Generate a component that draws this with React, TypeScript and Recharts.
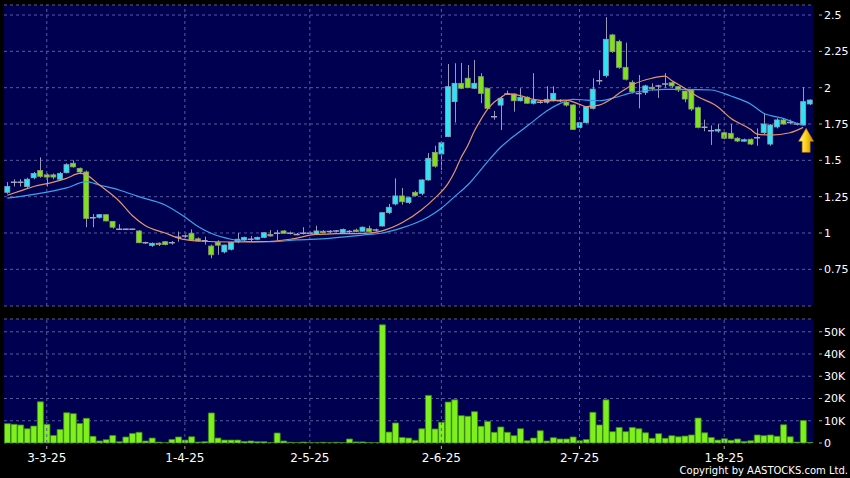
import {
  ComposedChart,
  Bar,
  Line,
  XAxis,
  YAxis,
  CartesianGrid,
  ReferenceLine,
  ReferenceDot,
} from "recharts";

// daily candles, index 0 = 21-2-25
const OPEN = [
  1.28, 1.35, 1.35, 1.32, 1.38, 1.43, 1.4, 1.4, 1.37, 1.415,
  1.48, 1.445, 1.42, 1.105, 1.108, 1.126, 1.08, 1.025, 1.025, 1.025,
  1.014, 0.933, 0.915, 0.93, 0.94, 0.933, 0.97, 0.98, 0.998, 0.96,
  0.947, 0.91, 0.936, 0.87, 0.888, 0.94, 0.952, 0.957, 0.957, 0.97,
  0.99, 0.998, 1.014, 0.998, 0.99, 0.998, 0.998, 0.99, 1.012, 1.01,
  1.014, 1.002, 1.01, 1.02, 1.012, 1.03, 1.02, 1.048, 1.14, 1.2,
  1.255, 1.21, 1.28, 1.273, 1.365, 1.555, 1.544, 1.663, 1.904, 2.03,
  2.065, 1.996, 2.076, 1.996, 1.8, 1.88, 1.957, 1.957, 1.91, 1.934,
  1.893, 1.9, 1.9, 1.91, 1.91, 1.9, 1.881, 1.727, 1.759, 1.858,
  2.048, 2.083, 2.363, 2.317, 2.14, 2.037, 1.96, 1.968, 2.003, 2.012,
  2.025, 2.034, 2.007, 1.977, 1.984, 1.862, 1.727, 1.704, 1.71, 1.69,
  1.686, 1.652, 1.638, 1.645, 1.656, 1.69, 1.612, 1.73, 1.778, 1.76,
  1.75, 1.743, 1.888,
];
const HIGH = [
  1.35, 1.37, 1.37, 1.38, 1.42, 1.52, 1.41, 1.41, 1.42, 1.48,
  1.5, 1.45, 1.43, 1.13, 1.13, 1.13, 1.08, 1.06, 1.03, 1.03,
  1.02, 0.94, 0.935, 0.935, 0.945, 0.945, 1.01, 0.99, 1.025, 0.97,
  0.975, 0.92, 0.95, 0.92, 0.94, 1.0, 0.975, 0.98, 0.975, 1.005,
  1.02, 1.02, 1.02, 1.01, 1.0, 1.04, 1.01, 1.05, 1.02, 1.02,
  1.02, 1.03, 1.02, 1.03, 1.045, 1.05, 1.03, 1.14, 1.2, 1.376,
  1.31, 1.25, 1.29, 1.37, 1.55, 1.6, 1.63, 2.163, 2.168, 2.17,
  2.156, 2.19, 2.1, 2.0, 1.84, 1.94, 1.98, 1.96, 1.996, 1.94,
  2.1, 1.91, 2.01, 2.01, 1.92, 1.91, 1.885, 1.76, 1.87, 2.065,
  2.12, 2.485, 2.37, 2.33, 2.31, 2.05, 2.087, 2.02, 2.03, 2.02,
  2.1, 2.04, 2.01, 1.98, 1.99, 1.87, 1.78, 1.74, 1.75, 1.695,
  1.75, 1.66, 1.65, 1.65, 1.72, 1.82, 1.75, 1.79, 1.79, 1.78,
  1.76, 2.003, 1.92,
];
const LOW = [
  1.27, 1.32, 1.32, 1.31, 1.37, 1.38, 1.32, 1.37, 1.36, 1.41,
  1.45, 1.41, 1.04, 1.04, 1.1, 1.08, 1.03, 1.02, 1.02, 1.02,
  0.93, 0.925, 0.905, 0.91, 0.915, 0.92, 0.94, 0.965, 0.95, 0.94,
  0.92, 0.826, 0.85, 0.86, 0.88, 0.93, 0.945, 0.94, 0.95, 0.965,
  0.975, 0.95, 0.995, 0.99, 0.985, 0.99, 0.99, 0.985, 1.0, 1.0,
  1.005, 1.0, 1.0, 1.005, 1.01, 1.005, 1.01, 1.045, 1.13, 1.19,
  1.195, 1.2, 1.25, 1.26, 1.36, 1.45, 1.434, 1.66, 1.76, 1.99,
  2.0, 1.99, 1.893, 1.85, 1.78, 1.709, 1.95, 1.835, 1.905, 1.89,
  1.885, 1.89, 1.89, 1.905, 1.9, 1.87, 1.709, 1.72, 1.755, 1.85,
  2.02, 2.07, 2.24, 2.13, 2.05, 1.96, 1.858, 1.95, 1.98, 1.93,
  2.0, 2.0, 1.97, 1.9, 1.84, 1.72, 1.7, 1.606, 1.69, 1.645,
  1.645, 1.625, 1.63, 1.605, 1.6, 1.68, 1.6, 1.72, 1.745, 1.75,
  1.74, 1.74, 1.88,
];
const CLOSE = [
  1.32, 1.35, 1.35, 1.37, 1.41, 1.39, 1.385, 1.385, 1.41, 1.47,
  1.455, 1.42, 1.1, 1.105, 1.126, 1.083, 1.04, 1.025, 1.025, 1.025,
  0.933, 0.933, 0.929, 0.92, 0.92, 0.933, 0.97, 0.98, 0.952, 0.945,
  0.947, 0.85, 0.916, 0.917, 0.936, 0.957, 0.97, 0.957, 0.97, 1.002,
  0.98, 0.998, 0.998, 0.998, 0.99, 0.998, 0.998, 1.014, 1.006, 1.01,
  1.014, 1.025, 1.01, 1.01, 1.04, 1.01, 1.02, 1.14, 1.177, 1.255,
  1.215, 1.243, 1.257, 1.365, 1.514, 1.46, 1.621, 2.007, 2.03, 1.996,
  2.0, 2.03, 1.961, 1.858, 1.8, 1.927, 1.957, 1.91, 1.934, 1.893,
  1.915, 1.9, 1.92, 1.961, 1.91, 1.88, 1.713, 1.759, 1.869, 1.99,
  2.048, 2.333, 2.248, 2.14, 2.058, 1.972, 1.96, 2.012, 1.998, 2.012,
  2.025, 2.012, 1.984, 1.922, 1.853, 1.727, 1.727, 1.704, 1.712, 1.652,
  1.652, 1.633, 1.642, 1.612, 1.656, 1.75, 1.743, 1.778, 1.75, 1.76,
  1.75, 1.904, 1.915,
];
// volume in thousands of shares
const VOLUME_K = [
  8.7, 8.4, 8.1, 6.4, 7.6, 18.5, 8.4, 3.4, 6.1, 13.6,
  13.2, 8.8, 11.1, 3.0, 0.9, 1.5, 3.4, 0.6, 2.7, 4.3,
  4.8, 0.9, 2.2, 0.4, 0.1, 1.6, 2.7, 1.3, 2.8, 0.4,
  0.6, 13.5, 2.2, 1.3, 1.3, 1.3, 0.7, 0.9, 0.6, 0.6,
  0.1, 4.5, 0.9, 0.3, 0.1, 0.4, 0.1, 0.1, 0.3, 0.1,
  0.3, 0.1, 1.8, 0.5, 0.5, 0.2, 0.1, 53.1, 4.9, 9.0,
  2.5, 2.2, 1.2, 6.4, 21.4, 6.3, 9.3, 18.4, 19.4, 12.3,
  12.0, 14.1, 7.5, 9.7, 4.8, 7.2, 4.8, 3.3, 6.4, 1.0,
  2.2, 5.5, 0.9, 2.4, 1.8, 1.8, 2.7, 1.0, 1.6, 13.8,
  8.1, 19.4, 5.1, 7.0, 5.1, 7.0, 6.4, 4.6, 2.1, 4.2,
  2.1, 3.3, 2.8, 3.1, 3.6, 11.2, 4.6, 2.5, 1.3, 1.9,
  1.2, 1.8, 0.7, 1.0, 3.6, 3.3, 3.6, 3.0, 8.2, 2.8,
  0.4, 10.1, 0.3,
];

// moving averages as [day index, value]
const MA_SHORT = [
  [0, 1.26], [2, 1.29], [4, 1.32], [7, 1.35], [9, 1.376], [11, 1.41], [12, 1.4],
  [14, 1.33], [17, 1.22], [19, 1.12], [21, 1.05], [24, 1.0], [26, 0.965], [29, 0.945],
  [34, 0.938], [39, 0.94], [43, 0.957], [47, 0.99], [50, 0.995], [54, 0.998],
  [57, 1.015], [60, 1.07], [63, 1.16], [65, 1.24], [67, 1.34], [68, 1.42], [69, 1.52],
  [70, 1.6], [71, 1.7], [72, 1.78], [73, 1.85], [74, 1.9], [75, 1.93], [76, 1.957],
  [78, 1.945], [80, 1.92], [82, 1.91], [85, 1.915], [87, 1.885], [88, 1.87], [90, 1.88],
  [92, 1.927], [93, 1.961], [95, 2.019], [98, 2.065], [100, 2.08], [101, 2.05],
  [103, 1.996], [105, 1.938], [108, 1.869], [110, 1.789], [113, 1.714], [114, 1.681],
  [116, 1.674], [119, 1.69], [121, 1.727],
];
const MA_LONG = [
  [0, 1.24], [4, 1.266], [9, 1.31], [12, 1.353], [14, 1.33], [17, 1.296], [20, 1.25],
  [24, 1.193], [27, 1.11], [29, 1.045], [31, 0.998], [34, 0.957], [37, 0.94], [40, 0.94],
  [44, 0.952], [49, 0.963], [54, 0.986], [57, 1.0], [60, 1.035], [62, 1.067], [64, 1.11],
  [66, 1.17], [68, 1.25], [70, 1.33], [73, 1.49], [75, 1.59], [78, 1.7], [80, 1.77],
  [82, 1.84], [84, 1.89], [86, 1.92], [88, 1.915], [90, 1.91], [92, 1.927], [95, 1.966],
  [98, 1.984], [100, 1.989], [103, 1.989], [107, 1.984], [110, 1.943], [113, 1.888],
  [115, 1.824], [118, 1.789], [120, 1.755], [121, 1.743],
];

const TICK_IDX = [6, 27, 46, 66, 87, 109];
const TICK_LABELS = ["3-3-25", "1-4-25", "2-5-25", "2-6-25", "2-7-25", "1-8-25"];
const PRICE_TICKS = [0.75, 1, 1.25, 1.5, 1.75, 2, 2.25, 2.5];
const VOL_TICKS = [0, 10000, 20000, 30000, 40000, 50000];
const ARROW = { i: 121, price: 1.72 };

const NAVY = "#000050";
const GRID = "#5a5a9a";
const FONT = "DejaVu Sans";

const rows = OPEN.map((o, i) => ({
  i,
  open: o,
  high: HIGH[i],
  low: LOW[i],
  close: CLOSE[i],
  vol: VOLUME_K[i] * 1000,
  maS: null as number | null,
  maL: null as number | null,
}));
MA_SHORT.forEach(([i, v]) => (rows[i].maS = v));
MA_LONG.forEach(([i, v]) => (rows[i].maL = v));

function Candle(props: any) {
  const { x, y, width, height, payload } = props;
  const { open, close, high, low } = payload;
  const top = Math.min(y, y + height);
  const h = Math.abs(height);
  const py = (v: number) => (high === low ? top : top + ((high - v) / (high - low)) * h);
  const cx = Math.round(x + width / 2) + 0.5;
  const yO = py(open);
  const yC = py(close);
  const wick = <line x1={cx} x2={cx} y1={top} y2={top + h} stroke="#9a9ab4" strokeWidth={1} />;
  if (open === close) {
    return (
      <g>
        {wick}
        <line x1={x - 0.5} x2={x + width + 0.5} y1={yO} y2={yO} stroke="#a4a4bc" strokeWidth={1.5} />
      </g>
    );
  }
  const up = close > open;
  return (
    <g>
      {wick}
      <rect
        x={x}
        y={Math.min(yO, yC)}
        width={width}
        height={Math.max(Math.abs(yO - yC), 1.5)}
        fill={up ? "#2ee4f4" : "#80e21c"}
        stroke={up ? "#8aa4bc" : "#8c9c78"}
        strokeWidth={0.8}
      />
    </g>
  );
}

function Arrow(props: any) {
  const cx = props.cx + 3;
  const cy = props.cy;
  const d = `M${cx} ${cy} L${cx + 7.5} ${cy + 13} L${cx + 4} ${cy + 13} L${cx + 4} ${cy + 24} L${cx - 4} ${cy + 24} L${cx - 4} ${cy + 13} L${cx - 7.5} ${cy + 13} Z`;
  return (
    <g>
      <defs>
        <linearGradient id="arrowGold" x1="0" x2="1" y1="0" y2="0">
          <stop offset="0" stopColor="#fff4a8" />
          <stop offset="0.45" stopColor="#ffd21a" />
          <stop offset="1" stopColor="#c88a00" />
        </linearGradient>
      </defs>
      <path d={d} fill="url(#arrowGold)" stroke="#a87800" strokeWidth={0.6} />
    </g>
  );
}

function RightTick(props: any) {
  const { x, y, payload, fmt } = props;
  return (
    <g>
      <line x1={x + 6} x2={x + 9} y1={y} y2={y} stroke="#b0b0b0" />
      <text x={x + 11} y={y} dy="0.36em" fill="#fff" fontSize={11} fontFamily={FONT}>
        {fmt(payload.value)}
      </text>
    </g>
  );
}

function DateTick(props: any) {
  const { x, y, payload } = props;
  const k = TICK_IDX.indexOf(payload.value);
  return (
    <g>
      <line x1={x} x2={x} y1={y + 3} y2={y + 6} stroke="#b0b0b0" />
      <text x={x} y={y + 19} textAnchor="middle" fill="#fff" fontSize={12} fontFamily={FONT}>
        {TICK_LABELS[k]}
      </text>
    </g>
  );
}

const fmtPrice = (v: number) => String(v);
const fmtVol = (v: number) => (v === 0 ? "0" : `${v / 1000}K`);

export default function App() {
  return (
    <div style={{ position: "fixed", left: 0, top: 0, width: 850, height: 478, background: "#000" }}>
      <div style={{ position: "absolute", left: 0, top: 0 }}>
        <ComposedChart width={850} height={310} data={rows} margin={{ top: 5, right: 0, bottom: 4, left: 4 }} barCategoryGap={0.8}>
          <CartesianGrid vertical={false} stroke={GRID} strokeDasharray="3 3" fill={NAVY} fillOpacity={1} />
          <XAxis dataKey="i" type="category" hide />
          <YAxis
            orientation="right"
            width={37}
            domain={[0.4976, 2.569]}
            ticks={PRICE_TICKS}
            interval={0}
            allowDataOverflow
            axisLine={false}
            tickLine={false}
            tickSize={0}
            tickMargin={0}
            tick={(p: any) => <RightTick {...p} fmt={fmtPrice} />}
          />
          {TICK_IDX.map((t) => (
            <ReferenceLine key={t} x={t} stroke={GRID} strokeDasharray="3 3" />
          ))}
          <Bar dataKey={(d: any) => [d.low, d.high]} shape={Candle} isAnimationActive={false} />
          <Line type="monotone" dataKey="maL" stroke="#3ba2ec" strokeWidth={1.2} dot={false} connectNulls isAnimationActive={false} />
          <Line type="monotone" dataKey="maS" stroke="#e4946c" strokeWidth={1.2} dot={false} connectNulls isAnimationActive={false} />
          <ReferenceDot x={ARROW.i} y={ARROW.price} shape={Arrow} />
        </ComposedChart>
      </div>
      <div style={{ position: "absolute", left: 0, top: 310 }}>
        <ComposedChart width={850} height={168} data={rows} margin={{ top: 9, right: 0, bottom: 0, left: 4 }} barCategoryGap={0.5}>
          <CartesianGrid vertical={false} stroke={GRID} strokeDasharray="3 3" fill={NAVY} fillOpacity={1} />
          <XAxis
            dataKey="i"
            type="category"
            ticks={TICK_IDX}
            interval={0}
            height={35}
            axisLine={false}
            tickLine={false}
            tickSize={0}
            tickMargin={0}
            tick={(p: any) => <DateTick {...p} />}
          />
          <YAxis
            orientation="right"
            width={37}
            domain={[0, 55740]}
            ticks={VOL_TICKS}
            interval={0}
            allowDataOverflow
            axisLine={false}
            tickLine={false}
            tickSize={0}
            tickMargin={0}
            tick={(p: any) => <RightTick {...p} fmt={fmtVol} />}
          />
          {TICK_IDX.map((t) => (
            <ReferenceLine key={t} x={t} stroke={GRID} strokeDasharray="3 3" />
          ))}
          <Bar dataKey="vol" fill="#7ef01e" stroke="#3f8a12" strokeWidth={0.8} isAnimationActive={false} />
        </ComposedChart>
      </div>
      <div
        style={{
          position: "absolute",
          left: 0,
          top: 465,
          width: 848,
          textAlign: "right",
          color: "#fff",
          fontSize: 10,
          lineHeight: "12px",
          fontFamily: FONT,
        }}
      >
        Copyright by AASTOCKS.com Ltd.
      </div>
    </div>
  );
}
